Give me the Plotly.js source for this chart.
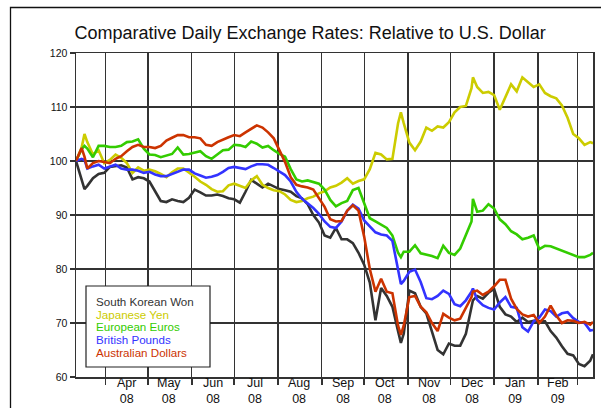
<!DOCTYPE html>
<html><head><meta charset="utf-8">
<script src="https://cdn.plot.ly/plotly-3.0.1.min.js"></script>
<style>html,body{margin:0;padding:0;background:#fff;}#chart{width:601px;height:408px;}</style>
</head><body><div id="chart"></div>
<script>
const dates = ['2008-03-11','2008-03-15','2008-03-17','2008-03-19','2008-03-23','2008-03-27','2008-03-31','2008-04-04','2008-04-08','2008-04-12',
'2008-04-16','2008-04-20','2008-04-24','2008-04-28','2008-05-02','2008-05-06','2008-05-10','2008-05-14','2008-05-18','2008-05-22',
'2008-05-26','2008-05-30','2008-06-03','2008-06-07','2008-06-11','2008-06-15','2008-06-19','2008-06-23','2008-06-27','2008-07-01',
'2008-07-05','2008-07-09','2008-07-13','2008-07-17','2008-07-21','2008-07-25','2008-07-29','2008-08-02','2008-08-06','2008-08-10',
'2008-08-14','2008-08-18','2008-08-22','2008-08-26','2008-08-30','2008-09-03','2008-09-07','2008-09-11','2008-09-15','2008-09-19',
'2008-09-23','2008-09-27','2008-10-01','2008-10-05','2008-10-09','2008-10-13','2008-10-17','2008-10-21','2008-10-25','2008-10-27',
'2008-10-29','2008-11-02','2008-11-06','2008-11-10','2008-11-14','2008-11-18','2008-11-22','2008-11-26','2008-11-30','2008-12-04',
'2008-12-08','2008-12-12','2008-12-16','2008-12-17','2008-12-20','2008-12-24','2008-12-28','2009-01-01','2009-01-05','2009-01-09',
'2009-01-13','2009-01-17','2009-01-21','2009-01-25','2009-01-29','2009-02-02','2009-02-06','2009-02-10','2009-02-14','2009-02-18',
'2009-02-22','2009-02-26','2009-03-02','2009-03-06','2009-03-10','2009-03-12'];

const won = [100,96.6,94.8,95.4,96.8,97.6,97.8,98.9,99.1,99.2,
98.8,96.6,97,96.8,96.2,94.4,92.6,92.4,92.9,92.6,
92.4,93.2,94.7,94.2,93.6,93.6,93.8,93.5,93.1,92.9,
92.3,94.3,96.5,95.8,95.1,95.8,95.3,94.8,94.6,94.3,
93.5,93.1,92,90,88.6,86.2,85.8,87.6,85.5,85.5,
84.8,83,80.8,77.5,70.5,76.5,75,73,68.5,66.3,
68,76,75.5,73,71.8,68.2,65,64.2,66.2,65.8,
65.8,68,73.5,74.2,75,74.5,75.6,76.3,73,71.6,
71.2,70.2,71,70.2,70.4,70.3,70.3,68.5,67.3,65.7,
64.3,64,62.4,62,63,64.2];

const yen = [100,102.5,105,103.5,101.2,102,99.6,100.2,101.2,100.6,
99.6,97.8,98.8,98.2,98.4,98.1,97.6,97,97.9,98.6,
98.6,97.9,97.1,96.2,95.6,94.8,94.3,94.4,95.5,95.8,
95.4,95,96.4,97.2,95.6,95,94.6,94.4,93.8,92.8,
92.4,92.6,93.1,93.4,94,94.4,95.1,95.4,96,96.8,
95.8,96.3,96.6,98.5,101.5,101.2,100.3,100.4,107,109,
107,103.4,102,103.6,106.2,105.6,106.4,106.2,107.2,109,
110,110.2,113.5,115.5,113.7,112.6,112.8,112.2,109.5,111.8,
114.2,112.9,115.5,114.6,113.7,114.2,112.6,112,111.6,110.3,
108,105,104.2,103,103.5,103.3];

const euro = [100,102.2,102.8,102.3,100.7,102.8,102.8,102.6,102.6,102.8,
103.5,103.6,104,102.3,101.2,101.1,100.7,101,101.3,102.5,
101.2,101.3,101.6,101.8,100.9,100.4,101.2,102,102.1,103,
102.9,102.6,103.6,103.2,102.5,102.8,102,101.3,100.8,98.5,
96.6,96.2,96.4,96.1,95.8,94.7,92.8,91.6,92.2,92.6,
94.6,95,92,89.4,88.8,88.2,87.6,86.2,83,82.2,
83.2,83.2,84.4,82.9,82.7,82.4,82,84.3,83,82.6,
83.8,86.2,88.8,93,90.6,90.8,92,91.2,89.2,88.3,
87,86.4,85.5,85.8,86.2,83.7,84.3,84.2,83.8,83.4,
83,82.6,82.2,82.2,82.6,83];

const pound = [100,100.4,100.2,98.6,99,99.3,98.6,98.9,99.3,98.6,
98.4,98.4,98.2,97.8,98,97.5,97.2,97.2,97.6,98,
98.4,98.4,97.7,97.3,96.9,97.1,97.4,98,98.7,98.9,
98.7,98.5,99,99.4,99.4,99.3,98.7,98,97.4,96.2,
94.3,93,92.2,91.3,90.2,88.8,87.8,87.6,88.8,90.8,
91.9,91.2,89,87.8,86.8,86.4,86.2,85.2,79.8,77.2,
77.8,79.5,79.9,77.6,74.6,74.4,75,76,75.4,73.5,
73.1,74.2,75.8,76.4,74.3,73.3,72.8,72.5,73.8,74.8,
73,72.8,69.2,68.4,70.3,71,72.5,72.2,71.2,71.8,
72,70.9,70.2,70,68.6,68.7];

const aud = [100,102.4,100.8,98.6,99.6,100,99.8,99.6,100.4,100.9,
101.8,102.6,103,102.6,102.6,102.4,102.8,103.8,104.3,104.8,
104.8,104.4,104.4,104.2,103,102.8,103.5,104,104.4,104.8,
104.6,105.3,106,106.6,106.2,105.3,104.2,102,99.8,97,
95.6,95.3,95.1,94.7,93.2,91.5,89.2,88.8,88.9,90.8,
91.8,90.8,86,80,75.8,78.2,75.8,75.5,69.5,67.8,
69.5,74.8,75,73,72,70,68.5,71.7,71,70.5,
70.8,72.8,74.8,75.8,76,75.2,75.8,76.8,78,78,
74.5,72.6,71.6,71.2,71.5,70,71.2,73.2,71.4,70,
70.5,70.4,70,70.2,69.7,70.2];

const seriesNames = ['South Korean Won','Japanese Yen','European Euros','British Pounds','Australian Dollars'];
const seriesColors = ['#333333','#cccc00','#33cc00','#3333ff','#cc3300'];
const seriesValues = [won, yen, euro, pound, aud];

const monthStarts = ['2008-04-01','2008-05-01','2008-06-01','2008-07-01','2008-08-01','2008-09-01','2008-10-01','2008-11-01','2008-12-01','2009-01-01','2009-02-01','2009-03-01'];
const labelDates = ['2008-04-16','2008-05-16','2008-06-16','2008-07-16','2008-08-16','2008-09-16','2008-10-16','2008-11-16','2008-12-16','2009-01-16','2009-02-15'];
const monthLabels = ['Apr','May','Jun','Jul','Aug','Sep','Oct','Nov','Dec','Jan','Feb'];
const yearLabels = ['08','08','08','08','08','08','08','08','08','09','09'];

const FONT = 'Liberation Sans, Arial, Helvetica, sans-serif';
const W = 601, H = 408, L = 76, R = 8, T = 53, B = 31;
const pw = W - L - R, ph = H - T - B;
const PX = x => (x - L) / pw;
const PY = y => (H - B - y) / ph;

const traces = seriesValues.map((vals, i) => ({
  type: 'scatter', mode: 'lines', x: dates, y: vals, name: seriesNames[i],
  line: {color: seriesColors[i], width: 2.6}, hoverinfo: 'skip', showlegend: false
}));

const annotations = [];
labelDates.forEach((d, i) => annotations.push({
  x: d, xref: 'x', y: PY(390.5), yref: 'paper', text: monthLabels[i] + '<br>' + yearLabels[i], showarrow: false,
  xanchor: 'center', yanchor: 'middle', align: 'center', font: {family: FONT, size: 12.5, color: '#111'}
}));
const legendTop = 300.6, legendStep = 12.9;
seriesNames.forEach((n, i) => annotations.push({
  x: PX(95), xref: 'paper', y: PY(legendTop + i * legendStep + 0.5), yref: 'paper', text: n, showarrow: false,
  xanchor: 'left', yanchor: 'middle', borderpad: 0, font: {family: FONT, size: 11.6, color: seriesColors[i]}
}));

const layout = {
  width: W, height: H,
  margin: {l: L, r: R, t: T, b: B, pad: 0},
  paper_bgcolor: '#fff', plot_bgcolor: '#fff',
  font: {family: FONT, color: '#111'},
  title: {text: 'Comparative Daily Exchange Rates: Relative to U.S. Dollar',
    font: {family: FONT, size: 18, color: '#111'},
    xref: 'container', x: 0.516, xanchor: 'center', yref: 'container', y: 1 - 33/408, yanchor: 'middle'},
  xaxis: {type: 'date', range: ['2008-03-11', '2009-03-12'],
    tickmode: 'array', tickvals: labelDates, ticks: '', showticklabels: false,
    showgrid: false, zeroline: false, showline: true, mirror: true, linecolor: '#333', linewidth: 1.5,
    minor: {tickmode: 'array', tickvals: monthStarts, ticks: 'outside', ticklen: 6, tickwidth: 1.5, tickcolor: '#333',
      showgrid: true, gridcolor: '#333', gridwidth: 1.3},
    fixedrange: true},
  yaxis: {range: [60, 120], tick0: 60, dtick: 10, ticks: 'outside', ticklen: 5, tickwidth: 1.5, tickcolor: '#333',
    showgrid: true, gridcolor: '#333', gridwidth: 1.3, zeroline: false, showline: true, mirror: true,
    linecolor: '#333', linewidth: 1.5, tickfont: {family: FONT, size: 10.5, color: '#111'}, fixedrange: true},
  shapes: [
    {type: 'rect', xref: 'paper', yref: 'paper', x0: PX(10.5), x1: PX(660), y0: PY(470), y1: PY(7.5),
      line: {color: '#111', width: 1.3}, fillcolor: 'rgba(0,0,0,0)', layer: 'below'},
    {type: 'rect', xref: 'paper', yref: 'paper', x0: PX(86), x1: PX(210), y0: PY(367), y1: PY(286),
      line: {color: '#222', width: 1.2}, fillcolor: '#fff', layer: 'above'}
  ],
  annotations: annotations,
  showlegend: false
};

Plotly.newPlot('chart', traces, layout, {displayModeBar: false, staticPlot: true});
</script></body></html>
